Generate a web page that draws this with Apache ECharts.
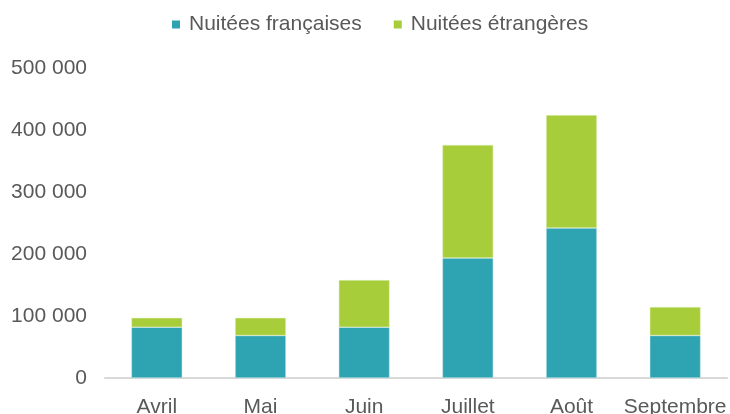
<!DOCTYPE html>
<html>
<head>
<meta charset="utf-8">
<script src="https://cdn.jsdelivr.net/npm/echarts@6/dist/echarts.min.js"></script>
<style>
  html, body { margin: 0; padding: 0; background: #fff; }
  #chart { width: 730px; height: 414px; }
</style>
</head>
<body>
<div id="chart"></div>
<script>
const months = ['Avril', 'Mai', 'Juin', 'Juillet', 'Août', 'Septembre'];
const nuiteesFr = [82000, 68500, 82000, 193500, 242000, 68500];
const nuiteesEtr = [15000, 28500, 76000, 182500, 182000, 46000];

const chart = echarts.init(document.getElementById('chart'));
const font = 'Liberation Sans, Arial, sans-serif';

const option = {
  animation: false,
  textStyle: { fontFamily: font },
  legend: {
    left: 167,
    top: 9,
    itemWidth: 8,
    itemHeight: 8,
    itemGap: 32,
    icon: 'rect',
    itemStyle: { borderWidth: 0 },
    textStyle: { fontSize: 21, color: '#595959', fontFamily: font, padding: [0, 0, 0, 4] },
    data: ['Nuitées françaises', 'Nuitées étrangères']
  },
  grid: { left: 105, right: 3, top: 68, bottom: 36, containLabel: false, outerBoundsMode: 'none' },
  xAxis: {
    type: 'category',
    data: months,
    axisTick: { show: false },
    axisLine: { lineStyle: { color: '#d9d9d9', width: 2 } },
    axisLabel: { fontSize: 21, color: '#595959', margin: 19, interval: 0 }
  },
  yAxis: {
    type: 'value',
    min: 0,
    max: 500000,
    interval: 100000,
    splitLine: { show: false },
    axisLine: { show: false },
    axisTick: { show: false },
    axisLabel: {
      fontSize: 21,
      color: '#595959',
      margin: 18,
      formatter: v => String(v).replace(/\B(?=(\d{3})+(?!\d))/g, ' ')
    }
  },
  series: [
    {
      name: 'Nuitées françaises',
      type: 'bar',
      stack: 'total',
      barWidth: '49%',
      itemStyle: { color: '#2ea3b2', borderColor: '#cde9ed', borderWidth: 0.5 },
      data: nuiteesFr
    },
    {
      name: 'Nuitées étrangères',
      type: 'bar',
      stack: 'total',
      barWidth: '49%',
      itemStyle: { color: '#a7ce3a', borderColor: '#e4f0c4', borderWidth: 0.5 },
      data: nuiteesEtr
    }
  ]
};
chart.setOption(option);
</script>
</body>
</html>
